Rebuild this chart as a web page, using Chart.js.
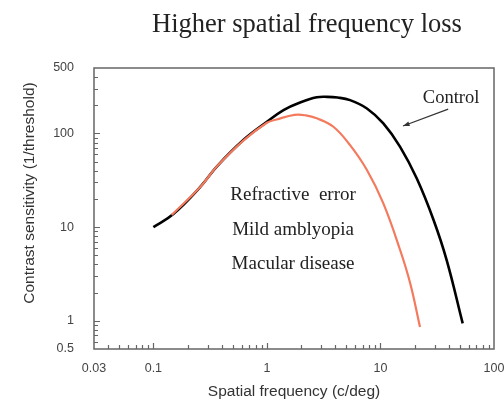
<!DOCTYPE html>
<html><head><meta charset="utf-8">
<script src="https://cdn.jsdelivr.net/npm/chart.js@4"></script>
<style>html,body{margin:0;padding:0;background:#fff}#c{display:block}</style>
</head><body>
<canvas id="c" width="504" height="407"></canvas>
<script>
// Data
const controlFreq = [0.1, 0.15, 0.26, 0.36, 0.62, 1.0, 1.4, 1.96, 2.75, 3.4, 4.2, 5.4, 7.6, 10.6, 14.9, 20.9, 29.3, 38.4, 53];
const controlSens = [10, 13.8, 27, 44, 85, 133, 178, 214, 243, 246, 242, 227, 185, 128, 72, 33, 12, 4.4, 0.94];
const lossFreq = [0.145, 0.26, 0.36, 0.62, 1.0, 1.22, 1.75, 2.2, 2.75, 3.85, 5.4, 7.6, 10.6, 14.9, 18.3, 22.3];
const lossSens = [13.5, 27, 44, 84, 130, 141, 158, 156, 145, 118, 75, 40.7, 17.9, 5.7, 2.5, 0.86];
const xTickLabels = [0.03, 0.1, 1, 10, 100];
const yTickLabels = [0.5, 1, 10, 100, 500];
const titleText = 'Higher spatial frequency loss';
const xTitle = 'Spatial frequency (c/deg)';
const yTitle = 'Contrast sensitivity (1/threshold)';
const groupLabels = ['Refractive  error', 'Mild amblyopia', 'Macular disease'];
const groupLabelY = [22, 9.3, 4.05];
const controlLabel = 'Control';

const toPts = (xs, ys) => xs.map((x, i) => ({x: x, y: ys[i]}));

function minorTicks(min, max) {
  const out = [];
  for (let e = -3; e <= 3; e++) {
    for (let k = 1; k <= 9; k++) {
      const v = k * Math.pow(10, e);
      if (v > min * 1.0001 && v < max * 0.9999) out.push({v: v, major: k === 1});
    }
  }
  return out;
}

const decor = {
  id: 'decor',
  afterDraw(chart) {
    const ctx = chart.ctx, a = chart.chartArea;
    const xs = chart.scales.x, ys = chart.scales.y;
    ctx.save();
    // frame
    ctx.strokeStyle = '#666';
    ctx.lineWidth = 1.5;
    ctx.strokeRect(a.left, a.top, a.right - a.left, a.bottom - a.top);
    // inward ticks
    ctx.lineWidth = 1.2;
    ctx.beginPath();
    minorTicks(0.03, 100).forEach(t => {
      const px = Math.round(xs.getPixelForValue(t.v)) + 0.5;
      ctx.moveTo(px, a.bottom);
      ctx.lineTo(px, a.bottom - (t.major ? 6 : 4));
    });
    minorTicks(0.5, 500).forEach(t => {
      const py = Math.round(ys.getPixelForValue(t.v)) + 0.5;
      ctx.moveTo(a.left, py);
      ctx.lineTo(a.left + (t.major ? 6 : 4), py);
    });
    ctx.stroke();

    // title
    ctx.fillStyle = '#222';
    ctx.textAlign = 'center';
    ctx.textBaseline = 'alphabetic';
    ctx.font = '26.5px "Liberation Serif"';
    ctx.fillText(titleText, 307, 32);

    // axis titles
    ctx.fillStyle = '#333';
    ctx.font = '15.5px "Liberation Sans"';
    ctx.textBaseline = 'middle';
    ctx.fillText(xTitle, 294, 392);
    ctx.save();
    ctx.translate(30, 193);
    ctx.rotate(-Math.PI / 2);
    ctx.fillText(yTitle, 0, 0);
    ctx.restore();

    // annotations
    ctx.fillStyle = '#222';
    ctx.font = '19px "Liberation Serif"';
    const gx = xs.getPixelForValue(1.70);
    groupLabels.forEach((s, i) => ctx.fillText(s, gx, ys.getPixelForValue(groupLabelY[i])));
    ctx.font = '18.5px "Liberation Serif"';
    ctx.fillText(controlLabel, xs.getPixelForValue(41.9), ys.getPixelForValue(239));

    // arrow
    const x0 = xs.getPixelForValue(39.5), y0 = ys.getPixelForValue(182);
    const x1 = xs.getPixelForValue(15.8), y1 = ys.getPixelForValue(120);
    ctx.strokeStyle = '#333';
    ctx.lineWidth = 1.2;
    ctx.beginPath();
    ctx.moveTo(x0, y0);
    ctx.lineTo(x1, y1);
    ctx.stroke();
    const ang = Math.atan2(y1 - y0, x1 - x0);
    ctx.beginPath();
    ctx.moveTo(x1, y1);
    ctx.lineTo(x1 - 7 * Math.cos(ang - 0.35), y1 - 7 * Math.sin(ang - 0.35));
    ctx.lineTo(x1 - 7 * Math.cos(ang + 0.35), y1 - 7 * Math.sin(ang + 0.35));
    ctx.closePath();
    ctx.fillStyle = '#333';
    ctx.fill();
    ctx.restore();
  }
};

Chart.defaults.font.family = '"Liberation Sans", Arial, sans-serif';

new Chart(document.getElementById('c'), {
  type: 'scatter',
  data: {
    datasets: [
      {label: 'Loss', data: toPts(lossFreq, lossSens), showLine: true, borderColor: '#f47a5e', borderWidth: 2.2,
       pointRadius: 0, tension: 0.4, order: 0},
      {label: 'Control', data: toPts(controlFreq, controlSens), showLine: true, borderColor: '#000', borderWidth: 2.6,
       pointRadius: 0, tension: 0.4, order: 1}
    ]
  },
  options: {
    responsive: false, animation: false, devicePixelRatio: 1,
    layout: {padding: {top: 68, right: 10, left: 0, bottom: 0}},
    plugins: {legend: {display: false}, tooltip: {enabled: false}},
    scales: {
      x: {
        type: 'logarithmic', min: 0.03, max: 100,
        grid: {display: false, drawTicks: false}, border: {display: false},
        ticks: {color: '#444', font: {size: 12.5}, padding: 12, autoSkip: false, maxRotation: 0, minRotation: 0,
                callback: v => String(v)},
        afterBuildTicks: s => { s.ticks = xTickLabels.map(v => ({value: v})); },
        afterFit: s => { s.height = 58; s.paddingLeft = 0; s.paddingRight = 0; }
      },
      y: {
        type: 'logarithmic', min: 0.5, max: 500,
        grid: {display: false, drawTicks: false}, border: {display: false},
        ticks: {color: '#444', font: {size: 12.5}, padding: 20, autoSkip: false,
                callback: v => String(v)},
        afterBuildTicks: s => { s.ticks = yTickLabels.map(v => ({value: v})); },
        afterFit: s => { s.width = 94; s.paddingTop = 0; s.paddingBottom = 0; }
      }
    }
  },
  plugins: [decor]
});
</script>
</body></html>
